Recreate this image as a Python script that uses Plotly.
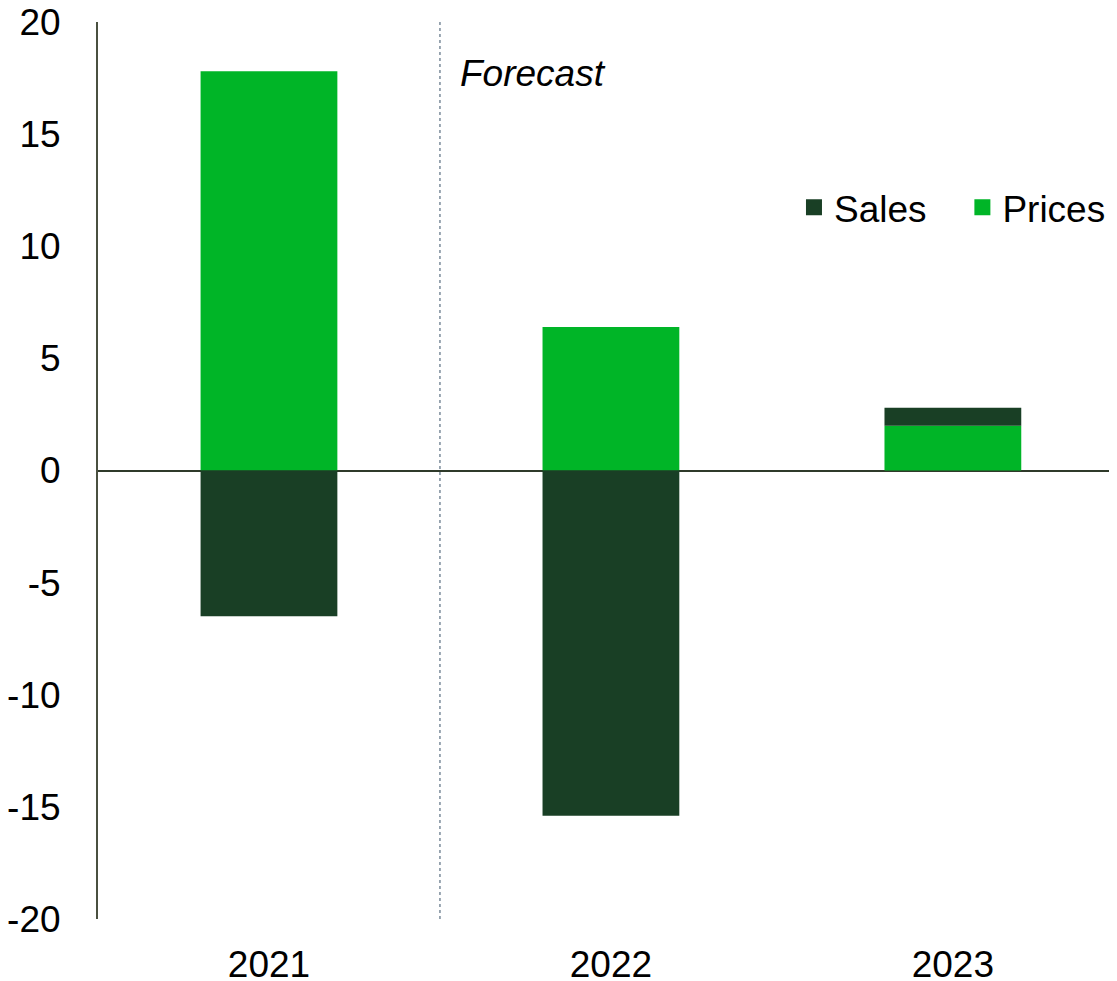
import plotly.graph_objects as go

years = ["2021", "2022", "2023"]
sales = [-6.5, -15.4, 0.8]
prices = [17.8, 6.4, 2.0]
y_ticks = [20, 15, 10, 5, 0, -5, -10, -15, -20]

FONT = "Liberation Sans, Arial, sans-serif"
DARK = "#193F25"
GREEN = "#00B527"
FS = 37

fig = go.Figure()
fig.add_trace(go.Bar(x=years, y=prices, name="Prices", marker=dict(color=GREEN, line=dict(width=0)),
                     width=0.4, showlegend=False))
fig.add_trace(go.Bar(x=years, y=sales, name="Sales", marker=dict(color=DARK, line=dict(width=0)),
                     width=0.4, showlegend=False))
# legend entries with square markers
fig.add_trace(go.Scatter(x=[None], y=[None], mode="markers", name="Sales\u00a0\u00a0\u00a0",
                         marker=dict(symbol="square", size=19, color=DARK), legendrank=1))
fig.add_trace(go.Scatter(x=[None], y=[None], mode="markers", name="Prices",
                         marker=dict(symbol="square", size=19, color=GREEN), legendrank=2))

fig.add_shape(type="line", xref="x", yref="y", x0=0.5, x1=0.5, y0=-20, y1=20,
              line=dict(color="#7a8a9a", width=1.5, dash="dot"))
fig.add_annotation(xref="x", yref="y", x=0.552, y=17.7, text="<i>Forecast</i>", showarrow=False,
                   xanchor="left", yanchor="middle", font=dict(family=FONT, size=FS, color="black"))

fig.update_layout(
    width=1109, height=973,
    margin=dict(l=90, r=0, t=14, b=62),
    barmode="relative",
    bargap=0.6,
    plot_bgcolor="white", paper_bgcolor="white",
    font=dict(family=FONT, size=FS, color="black"),
    showlegend=True,
    legend=dict(orientation="h", x=0.683, y=0.793, xanchor="left", yanchor="middle",
                font=dict(family=FONT, size=FS, color="black"), bgcolor="rgba(0,0,0,0)",
                itemwidth=30, tracegroupgap=0),
    xaxis=dict(type="category", range=[-0.5, 2.48], showgrid=False, showline=False,
               ticks="", ticklabelstandoff=20, automargin=False, ticklabeloverflow="allow",
               tickfont=dict(family=FONT, size=FS)),
    yaxis=dict(range=[-20, 20], tickvals=y_ticks, ticktext=[str(v) for v in y_ticks],
               showgrid=False, showline=True, linecolor="#4a5040", linewidth=2,
               zeroline=True, zerolinecolor="#2f3a2a", zerolinewidth=2, automargin=False,
               ticklabeloverflow="allow",
               ticks="", ticklabelstandoff=28, tickfont=dict(family=FONT, size=FS)),
)

fig.write_html("out.html")
